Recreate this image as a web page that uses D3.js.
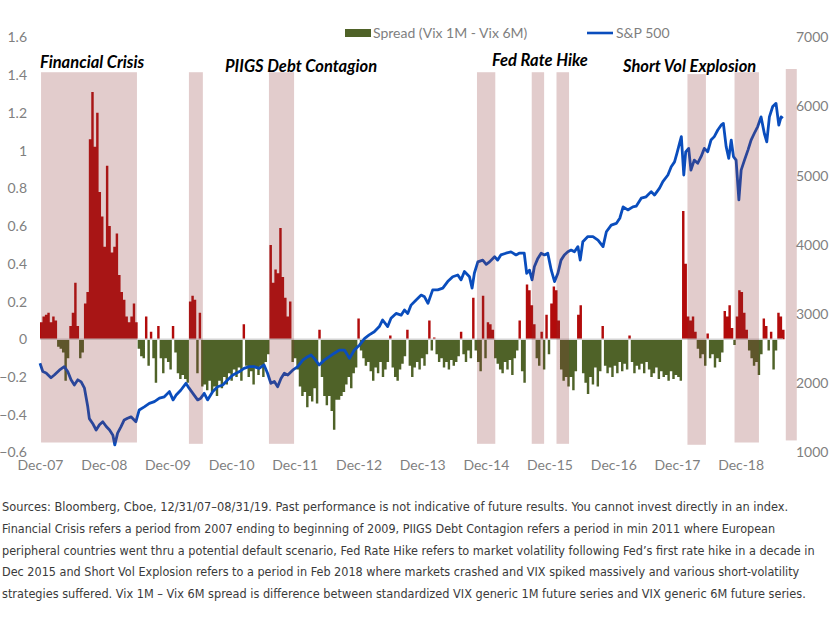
<!DOCTYPE html>
<html>
<head>
<meta charset="utf-8">
<script src="https://cdn.jsdelivr.net/npm/d3@7"></script>
<style>
  body { margin:0; background:#fff; }
  svg { display:block; font-family:Lato, 'Open Sans', sans-serif; }
</style>
</head>
<body>
<svg id="chart" width="833" height="621"></svg>
<script>
// spread (Vix 1M - Vix 6M), one reading every 14 days from spreadStart
var spreadStart = '2007-12-31'
  , spreadStepDays = 14
  , spreadValues = [
      0.09, 0.12, 0.13, 0.14, 0.09, 0.12, 0.10, -0.04, -0.05, -0.07,
      -0.22, -0.10, 0.07, 0.14, 0.30, 0.07, -0.10, -0.07, 0.19, 0.25,
      1.06, 1.31, 1.02, 1.20, 0.78, 0.65, 0.49, 0.92, 0.60, 0.46,
      0.49, 0.56, 0.34, 0.25, 0.21, 0.12, 0.09, 0.12, 0.19, 0.09,
      -0.05, -0.09, -0.10, 0.12, -0.14, 0.04, -0.10, -0.23, 0.07, -0.10,
      -0.18, -0.10, -0.12, -0.16, 0.07, -0.07, -0.18, -0.21, -0.19, -0.21,
      -0.23, 0.20, 0.23, 0.21, -0.18, 0.14, -0.25, -0.24, -0.27, -0.22,
      -0.28, -0.25, -0.30, -0.22, -0.26, -0.20, -0.24, -0.18, -0.22, -0.16,
      -0.20, -0.15, -0.22, 0.08, -0.14, -0.20, -0.17, -0.24, -0.15, -0.19,
      -0.14, -0.20, -0.12, -0.08, 0.50, 0.30, 0.37, 0.35, 0.59, 0.33,
      0.22, 0.12, 0.20, -0.12, -0.10, -0.16, -0.25, -0.30, -0.28, -0.36,
      -0.30, -0.33, -0.26, -0.34, 0.05, -0.20, -0.30, -0.35, -0.30, -0.38,
      -0.48, -0.32, -0.32, -0.30, -0.28, -0.24, -0.20, -0.26, -0.18, -0.15,
      0.11, -0.06, -0.10, -0.14, -0.12, -0.17, -0.22, -0.15, -0.18, -0.12,
      -0.20, -0.16, -0.12, 0.02, -0.15, -0.20, -0.22, -0.16, -0.13, -0.09,
      0.05, -0.14, -0.20, -0.15, -0.12, -0.16, -0.10, -0.14, -0.08, 0.10,
      -0.06, 0.01, -0.08, -0.12, -0.10, -0.15, -0.12, -0.16, -0.11, -0.14,
      -0.12, -0.09, 0.04, -0.08, -0.12, -0.06, -0.10, 0.22, -0.06, -0.12,
      -0.17, 0.23, -0.10, 0.09, 0.08, 0.05, -0.10, -0.13, -0.16, -0.18,
      -0.12, -0.16, -0.11, -0.19, -0.10, -0.06, 0.10, -0.17, -0.23, 0.29,
      0.26, 0.18, 0.08, -0.10, -0.14, 0.04, -0.16, 0.13, -0.08, 0.19,
      0.28, 0.26, 0.10, -0.16, -0.22, -0.20, -0.25, -0.20, -0.27, -0.17,
      0.13, 0.18, -0.18, -0.23, -0.29, -0.20, -0.24, -0.15, -0.25, -0.17,
      0.07, -0.14, -0.18, -0.15, -0.20, -0.14, -0.18, -0.12, -0.17, -0.13,
      -0.16, 0.02, -0.12, -0.18, -0.14, -0.16, -0.13, -0.18, -0.12, -0.16,
      -0.20, -0.18, -0.15, -0.21, -0.17, -0.20, -0.19, -0.22, -0.17, -0.21,
      -0.19, -0.20, -0.22, 0.68, 0.40, 0.12, 0.10, 0.12, 0.04, -0.05,
      -0.10, -0.08, -0.14, 0.03, -0.10, -0.08, -0.15, -0.10, -0.12, -0.07,
      0.15, 0.12, 0.18, 0.06, -0.03, 0.12, 0.26, 0.25, 0.14, 0.05,
      -0.06, -0.10, -0.14, -0.12, -0.19, -0.08, 0.11, 0.07, -0.06, 0.04,
      -0.16, -0.06, 0.14, 0.12, 0.05
    ]

var spxDates = [
      '2007-12-31','2008-01-16','2008-02-04','2008-03-03','2008-03-22','2008-04-20','2008-05-18','2008-06-07',
      '2008-06-26','2008-07-15','2008-08-04','2008-08-23','2008-09-11','2008-09-30','2008-10-09','2008-10-28',
      '2008-11-17','2008-12-06','2008-12-25','2009-01-14','2009-02-02','2009-02-21','2009-03-04','2009-03-20',
      '2009-04-08','2009-04-27','2009-05-16','2009-06-05','2009-07-03','2009-07-22','2009-08-20','2009-09-18',
      '2009-10-17','2009-11-15','2009-12-13','2010-01-11','2010-02-01','2010-02-19','2010-03-17','2010-04-16',
      '2010-05-04','2010-06-02','2010-06-22','2010-07-10','2010-07-30','2010-08-18','2010-09-17','2010-10-15',
      '2010-11-13','2010-12-12','2011-01-10','2011-02-17','2011-03-15','2011-04-14','2011-05-12','2011-06-10',
      '2011-07-08','2011-07-28','2011-08-16','2011-09-05','2011-09-24','2011-10-13','2011-11-01','2011-11-21',
      '2011-12-19','2012-01-17','2012-02-15','2012-03-14','2012-04-02','2012-04-21','2012-05-19','2012-06-17',
      '2012-07-16','2012-08-14','2012-09-12','2012-10-11','2012-11-09','2012-12-07','2013-01-06','2013-02-04',
      '2013-03-02','2013-03-31','2013-04-29','2013-05-18','2013-06-16','2013-07-05','2013-08-03','2013-09-01',
      '2013-09-20','2013-10-09','2013-10-28','2013-11-26','2013-12-25','2014-01-13','2014-02-02','2014-03-01',
      '2014-03-30','2014-04-28','2014-05-26','2014-06-24','2014-07-23','2014-08-11','2014-08-30','2014-09-28',
      '2014-10-13','2014-10-26','2014-11-15','2014-12-13','2015-01-02','2015-01-21','2015-02-19','2015-03-08',
      '2015-03-27','2015-04-25','2015-05-24','2015-06-22','2015-07-10','2015-08-08','2015-08-22','2015-09-07',
      '2015-09-22','2015-10-05','2015-10-25','2015-11-13','2015-12-02','2015-12-21','2016-01-10','2016-01-29',
      '2016-02-17','2016-03-06','2016-03-25','2016-04-14','2016-05-03','2016-05-22','2016-06-11','2016-06-24',
      '2016-07-09','2016-08-07','2016-09-05','2016-10-04','2016-11-02','2016-11-21','2016-12-19','2017-01-17',
      '2017-02-06','2017-02-25','2017-03-24','2017-04-22','2017-05-11','2017-06-09','2017-07-07','2017-08-05',
      '2017-08-24','2017-09-22','2017-10-11','2017-11-09','2017-11-28','2017-12-17','2017-12-31','2018-01-15',
      '2018-01-25','2018-02-08','2018-02-19','2018-03-08','2018-03-21','2018-04-09','2018-04-29','2018-05-18',
      '2018-06-06','2018-06-25','2018-07-14','2018-08-02','2018-08-22','2018-09-10','2018-09-23','2018-10-09',
      '2018-10-24','2018-11-07','2018-11-20','2018-12-05','2018-12-21','2019-01-03','2019-01-22','2019-02-11',
      '2019-03-01','2019-03-19','2019-04-08','2019-04-27','2019-05-16','2019-05-30','2019-06-14','2019-07-03',
      '2019-07-22','2019-08-07','2019-08-20','2019-08-30'
    ]
  , spxValues = [
      2290, 2170, 2150, 2080, 2120, 2190, 2240, 2170,
      2050, 1975, 2050, 2020, 1930, 1660, 1490, 1420,
      1325, 1400, 1445, 1375, 1325, 1250, 1110, 1280,
      1370, 1470, 1495, 1515, 1445, 1615, 1660, 1710,
      1735, 1785, 1805, 1880, 1760, 1830, 1900, 2000,
      1930, 1830, 1760, 1785, 1855, 1760, 1880, 1950,
      1975, 2050, 2120, 2170, 2215, 2240, 2240, 2215,
      2265, 2145, 2000, 2025, 1950, 2070, 2145, 2120,
      2190, 2240, 2335, 2385, 2410, 2360, 2265, 2335,
      2385, 2435, 2480, 2480, 2360, 2480, 2555, 2650,
      2700, 2745, 2820, 2915, 2820, 2940, 3010, 2985,
      3060, 3010, 3130, 3205, 3275, 3250, 3155, 3350,
      3350, 3375, 3470, 3540, 3565, 3495, 3615, 3540,
      3375, 3590, 3755, 3780, 3720, 3755, 3830, 3780,
      3855, 3880, 3900, 3855, 3880, 3880, 3590, 3635,
      3495, 3685, 3805, 3880, 3855, 3880, 3635, 3470,
      3590, 3780, 3855, 3900, 3925, 3900, 3975, 3780,
      4045, 4120, 4120, 4070, 3975, 4190, 4285, 4310,
      4385, 4550, 4505, 4550, 4560, 4675, 4695, 4770,
      4720, 4820, 4915, 5010, 5130, 5200, 5325, 5470,
      5565, 5010, 5345, 5395, 5080, 5225, 5180, 5275,
      5395, 5345, 5515, 5565, 5660, 5730, 5755, 5420,
      5250, 5515, 5275, 5225, 4650, 5080, 5225, 5370,
      5515, 5610, 5710, 5850, 5610, 5490, 5850, 6000,
      6045, 5730, 5850, 5830
    ]

// highlighted stress periods, heights in spread units
var shadeStarts = ['2008-01-06','2010-05-03','2011-08-05','2014-11-10','2015-09-20','2016-02-09','2018-03-01','2018-11-26','2019-09-16']
  , shadeEnds   = ['2009-07-09','2010-07-22','2011-12-27','2015-02-23','2015-11-30','2016-04-21','2018-06-15','2019-04-15','2019-11-18']
  , shadeTops    = [1.415, 1.415, 1.415, 1.415, 1.415, 1.415, 1.405, 1.415, 1.432]
  , shadeBottoms = [-0.547, -0.554, -0.554, -0.554, -0.554, -0.554, -0.559, -0.547, -0.536]

var leftTicks = [1.6, 1.4, 1.2, 1, 0.8, 0.6, 0.4, 0.2, 0, -0.2, -0.4, -0.6]
  , rightTicks = [7000, 6000, 5000, 4000, 3000, 2000, 1000]
  , xTickDates = ['2007-12-31','2008-12-31','2009-12-31','2010-12-31','2011-12-31','2012-12-31',
                  '2013-12-31','2014-12-31','2015-12-31','2016-12-31','2017-12-31','2018-12-31']

var annotationLabels = ['Financial Crisis', 'PIIGS Debt Contagion', 'Fed Rate Hike', 'Short Vol Explosion']
  , legendLabels = ['Spread (Vix 1M - Vix 6M)', 'S&P 500']
  , footnoteLines = [
      'Sources: Bloomberg, Cboe, 12/31/07\u201308/31/19. Past performance is not indicative of future results. You cannot invest directly in an index.',
      'Financial Crisis refers a period from 2007 ending to beginning of 2009, PIIGS Debt Contagion refers a period in min 2011 where European',
      'peripheral countries went thru a potential default scenario, Fed Rate Hike refers to market volatility following Fed\u2019s first rate hike in a decade in',
      'Dec 2015 and Short Vol Explosion refers to a period in Feb 2018 where markets crashed and VIX spiked massively and various short-volatility',
      'strategies suffered. Vix 1M \u2013 Vix 6M spread is difference between standardized VIX generic 1M future series and VIX generic 6M future series.'
    ]

var parse = d3.utcParse('%Y-%m-%d')
  , red = '#B20B0B'
  , olive = '#4F6228'
  , blue = '#0A4DBD'
  , grey = '#7F7F7F'

var svg = d3.select('#chart')

var x = d3.scaleUtc()
  .domain([parse('2007-12-31'), parse('2019-08-31')])
  .range([40, 783])
var yL = d3.scaleLinear().domain([-0.6, 1.6]).range([452.5, 37.3])
var yR = d3.scaleLinear().domain([1000, 7000]).range([452.5, 37.3])

var spread = spreadValues.map(function(v, i) {
  return { date:d3.utcDay.offset(parse(spreadStart), i * spreadStepDays), v:v }
})
// closing point so the last column gets its width
spread.push({ date:d3.utcDay.offset(spread[spread.length - 1].date, spreadStepDays), v:spreadValues[spreadValues.length - 1] })
var spx = spxDates.map(function(d, i) { return { date:parse(d), v:spxValues[i] } })

// spread columns, drawn as stepped areas either side of zero so they butt without seams
var spreadArea = function(clip) {
  return d3.area()
    .curve(d3.curveStepAfter)
    .x(function(d) { return x(d.date) })
    .y0(yL(0))
    .y1(function(d) { return yL(clip(d.v)) })
}
svg.append('path').datum(spread).attr('fill', red)
  .attr('d', spreadArea(function(v) { return Math.max(0, v) }))
svg.append('path').datum(spread).attr('fill', olive)
  .attr('d', spreadArea(function(v) { return Math.min(0, v) }))

svg.append('line')
  .attr('x1', x.range()[0]).attr('x2', x.range()[1])
  .attr('y1', yL(0)).attr('y2', yL(0))
  .attr('stroke', '#D4D4D4').attr('stroke-width', 1.5)

svg.append('path')
  .datum(spx)
  .attr('fill', 'none')
  .attr('stroke', blue)
  .attr('stroke-width', 2.8)
  .attr('stroke-linejoin', 'round')
  .attr('d', d3.line().x(function(d) { return x(d.date) }).y(function(d) { return yR(d.v) }))

// translucent shading sits over the series, as in the source
svg.append('g').selectAll('rect')
    .data(shadeStarts)
  .enter().append('rect')
    .attr('x', function(d) { return x(parse(d)) })
    .attr('width', function(d, i) { return x(parse(shadeEnds[i])) - x(parse(d)) })
    .attr('y', function(d, i) { return yL(shadeTops[i]) })
    .attr('height', function(d, i) { return yL(shadeBottoms[i]) - yL(shadeTops[i]) })
    .attr('fill', 'rgb(140,50,50)')
    .attr('fill-opacity', 0.25)

// axes
var axisL = svg.append('g').attr('transform', 'translate(27,0)')
  .call(d3.axisLeft(yL).tickValues(leftTicks).tickSize(0).tickPadding(0).tickFormat(d3.format('')))
var axisR = svg.append('g').attr('transform', 'translate(796,0)')
  .call(d3.axisRight(yR).tickValues(rightTicks).tickSize(0).tickPadding(0).tickFormat(d3.format('')))
var axisX = svg.append('g').attr('transform', 'translate(0,460)')
  .call(d3.axisBottom(x).tickValues(xTickDates.map(parse)).tickSize(0).tickPadding(0).tickFormat(d3.utcFormat('Dec-%y')))

;[axisL, axisR, axisX].forEach(function(g) {
  g.select('.domain').remove()
  g.selectAll('text')
    .attr('fill', grey)
    .style('font-family', 'Lato, sans-serif')
    .style('font-size', '14px')
})

// legend
var legend = svg.append('g').style('font-size', '14px').attr('fill', grey)
legend.append('rect').attr('x', 345).attr('y', 29).attr('width', 26).attr('height', 8).attr('fill', olive)
legend.append('text').attr('x', 373).attr('y', 33).attr('dy', '0.35em').text(legendLabels[0])
legend.append('line').attr('x1', 587).attr('x2', 613).attr('y1', 33).attr('y2', 33)
  .attr('stroke', blue).attr('stroke-width', 2.6)
legend.append('text').attr('x', 616).attr('y', 33).attr('dy', '0.35em').text(legendLabels[1])

// event labels
var annotationSpots = [[40, 68], [225, 72], [492, 66], [623, 72]]
svg.append('g').selectAll('text')
    .data(annotationLabels)
  .enter().append('text')
    .attr('x', function(d, i) { return annotationSpots[i][0] })
    .attr('y', function(d, i) { return annotationSpots[i][1] })
    .style('font-size', '16.5px')
    .style('font-weight', 'bold')
    .style('font-style', 'italic')
    .attr('fill', '#000')
    .text(function(d) { return d })

// footnote: condensed face, squeezed to the widths of the source lines
var footWidths = [787, 774, 814, 798, 804]
svg.append('g').selectAll('text')
    .data(footnoteLines)
  .enter().append('text')
    .style('font-family', "'Liberation Sans Narrow', 'DejaVu Sans', sans-serif")
    .style('font-stretch', 'condensed')
    .style('font-size', '13px')
    .attr('fill', '#3A3A3A')
    .text(function(d) { return d })
    .attr('transform', function(d, i) {
      var k = footWidths[i] / this.getComputedTextLength()
      return 'translate(2,' + (511 + i * 21.8) + ') scale(' + k + ',1)'
    })
</script>
</body>
</html>
